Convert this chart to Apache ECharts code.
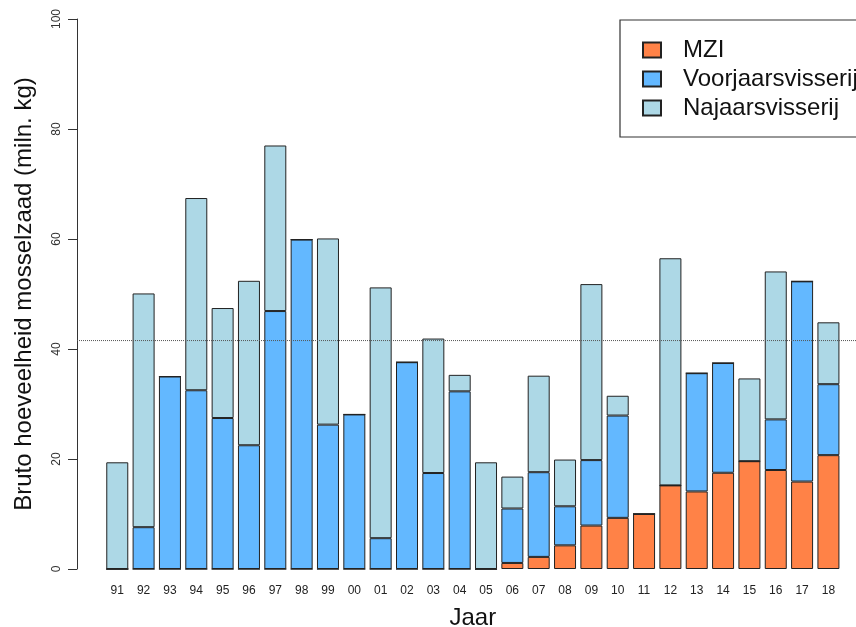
<!DOCTYPE html>
<html>
<head>
<meta charset="utf-8">
<script src="https://cdn.jsdelivr.net/npm/echarts@6/dist/echarts.min.js"></script>
<style>
  html, body { margin: 0; padding: 0; background: #fff; overflow: hidden; }
  #chart { width: 856px; height: 627px; }
</style>
</head>
<body>
<div id="chart"></div>
<script>
// Jaren (twee cijfers) op de x-as
const jaren = ['91','92','93','94','95','96','97','98','99','00','01','02','03','04',
               '05','06','07','08','09','10','11','12','13','14','15','16','17','18'];

// Bruto hoeveelheid mosselzaad per bron (miljoen kg)
const mzi = [0, 0, 0, 0, 0, 0, 0, 0, 0, 0, 0, 0, 0, 0,
             0, 1.1, 2.2, 4.3, 7.9, 9.3, 10.0, 15.2, 14.1, 17.5, 19.6, 18.0, 15.9, 20.7];
const voorjaar = [0, 7.6, 35.0, 32.5, 27.45, 22.5, 46.9, 59.9, 26.25, 28.1, 5.6, 37.6, 17.45, 32.3,
                  0, 9.9, 15.4, 7.1, 11.9, 18.6, 0, 0, 21.5, 19.95, 0, 9.2, 36.4, 12.9];
const najaar = [19.4, 42.5, 0, 34.95, 20.0, 29.9, 30.1, 0, 33.85, 0, 45.6, 0, 24.45, 3.0,
                19.4, 5.8, 17.55, 8.5, 32.0, 3.6, 0, 41.3, 0, 0, 15.05, 26.9, 0, 11.25];

// y-as schaalverdeling
const yTicks = [0, 20, 40, 60, 80, 100];

// Gemiddelde totale hoeveelheid over alle jaren (stippellijn)
const totalen = jaren.map((_, i) => mzi[i] + voorjaar[i] + najaar[i]);
const gemiddelde = totalen.reduce((a, b) => a + b, 0) / totalen.length;

const FONT = '"Liberation Sans", Arial, Helvetica, sans-serif';
const RAND = '#222';

const chart = echarts.init(document.getElementById('chart'), null,
  { renderer: 'canvas', width: 856, height: 627 });

function staaf(naam, data, kleur) {
  return {
    name: naam,
    type: 'bar',
    stack: 'totaal',
    xAxisIndex: 0,
    yAxisIndex: 0,
    data: data,
    barWidth: 22,
    itemStyle: { color: kleur, borderColor: RAND, borderWidth: 1 },
    emphasis: { disabled: true },
    animation: false
  };
}

chart.setOption({
  backgroundColor: '#ffffff',
  animation: false,
  textStyle: { fontFamily: FONT },
  grid: [
    { left: 104.1, right: 14.4, top: 19, bottom: 58, containLabel: false, outerBoundsMode: 'none' },
    { left: 77, right: 0, top: 19, bottom: 58, containLabel: false, outerBoundsMode: 'none' }
  ],
  legend: {
    orient: 'vertical',
    left: 620,
    top: 20,
    padding: [18, 40, 17, 22],
    itemGap: 5,
    itemWidth: 18,
    itemHeight: 15,
    icon: 'rect',
    borderColor: '#333',
    borderWidth: 1.2,
    selectedMode: false,
    data: ['MZI', 'Voorjaarsvisserij', 'Najaarsvisserij'],
    textStyle: { fontFamily: FONT, fontSize: 24, color: '#111', padding: [0, 0, 0, 17] }
  },
  xAxis: [
    {
      type: 'category',
      gridIndex: 0,
      data: jaren,
      axisLine: { show: false },
      axisTick: { show: false },
      axisLabel: { fontSize: 12, color: '#222', margin: 16, fontFamily: FONT },
      name: 'Jaar',
      nameLocation: 'middle',
      nameGap: 37,
      nameTextStyle: { fontSize: 24, color: '#111', fontFamily: FONT }
    },
    {
      type: 'value',
      gridIndex: 1,
      min: 0,
      max: 1,
      show: false
    }
  ],
  yAxis: [
    {
      type: 'value',
      gridIndex: 0,
      min: yTicks[0],
      max: yTicks[yTicks.length - 1],
      interval: 20,
      offset: 27.1,
      splitLine: { show: false },
      axisLine: { show: true, lineStyle: { color: '#333', width: 1 } },
      axisTick: { show: true, length: 9, lineStyle: { color: '#333', width: 1 } },
      axisLabel: { rotate: 90, fontSize: 12, color: '#333', margin: 14, fontFamily: FONT },
      name: 'Bruto hoeveelheid mosselzaad (miln. kg)',
      nameLocation: 'middle',
      nameGap: 41,
      nameTextStyle: { fontSize: 24, color: '#111', fontFamily: FONT }
    },
    {
      type: 'value',
      gridIndex: 1,
      min: yTicks[0],
      max: yTicks[yTicks.length - 1],
      show: false
    }
  ],
  series: [
    staaf('MZI', mzi, '#FF8247'),
    staaf('Voorjaarsvisserij', voorjaar, '#63B8FF'),
    staaf('Najaarsvisserij', najaar, '#ADD8E6'),
    {
      name: 'gemiddelde',
      type: 'line',
      xAxisIndex: 1,
      yAxisIndex: 1,
      data: [[0, gemiddelde], [1, gemiddelde]],
      symbol: 'none',
      z: 5,
      lineStyle: { color: '#555', width: 1, type: [1, 1] },
      emphasis: { disabled: true },
      animation: false
    }
  ]
});
</script>
</body>
</html>
